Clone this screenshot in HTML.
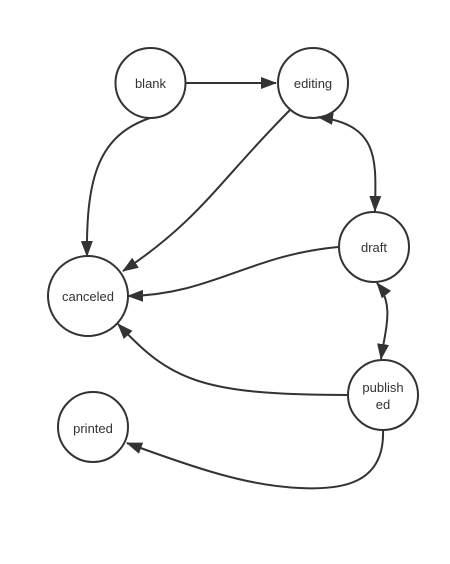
<!DOCTYPE html>
<html><head><meta charset="utf-8"><style>
html,body{margin:0;padding:0;background:#fff;}
svg{display:block;}
text{font-family:"Liberation Sans",sans-serif;font-size:13px;fill:#333;}
</style></head><body>
<svg width="450" height="564" viewBox="0 0 450 564" xmlns="http://www.w3.org/2000/svg">
<defs>
<marker id="a" markerWidth="16" markerHeight="12" refX="15" refY="6" orient="auto" markerUnits="userSpaceOnUse">
<path d="M0,0 L16,6 L0,12 Z" fill="#333"/></marker>
<marker id="s" markerWidth="16" markerHeight="12" refX="1" refY="6" orient="auto" markerUnits="userSpaceOnUse">
<path d="M16,0 L0,6 L16,12 Z" fill="#333"/></marker>
</defs>
<g fill="none" stroke="#333" stroke-width="2">
<path d="M186,83 L276,83" marker-end="url(#a)"/>
<path d="M150,118 C100,135 86,175 87,256" marker-end="url(#a)"/>
<path d="M290,110 C220,180 200,220 123,271" marker-end="url(#a)"/>
<path d="M318,117 C380,125 376,160 375,211" marker-start="url(#s)" marker-end="url(#a)"/>
<path d="M338,247 C250,255 210,295 128,296" marker-end="url(#a)"/>
<path d="M377,283 C395,305 385,330 381,359" marker-start="url(#s)" marker-end="url(#a)"/>
<path d="M348,395 C200,395 170,380 118,324" marker-end="url(#a)"/>
<path d="M383,430 C385,485 340,490 300,488 C250,486 200,470 127,443" marker-end="url(#a)"/>
<circle cx="150.5" cy="83" r="35"/>
<circle cx="313" cy="83" r="35"/>
<circle cx="374" cy="247" r="35"/>
<circle cx="88" cy="296" r="40"/>
<circle cx="93" cy="427" r="35"/>
<circle cx="383" cy="395" r="35"/>
</g>
<g text-anchor="middle">
<text x="150.5" y="88">blank</text>
<text x="313" y="88">editing</text>
<text x="374" y="252">draft</text>
<text x="88" y="301">canceled</text>
<text x="93" y="433">printed</text>
<text x="383" y="392">publish</text>
<text x="383" y="409">ed</text>
</g>
</svg>
</body></html>
